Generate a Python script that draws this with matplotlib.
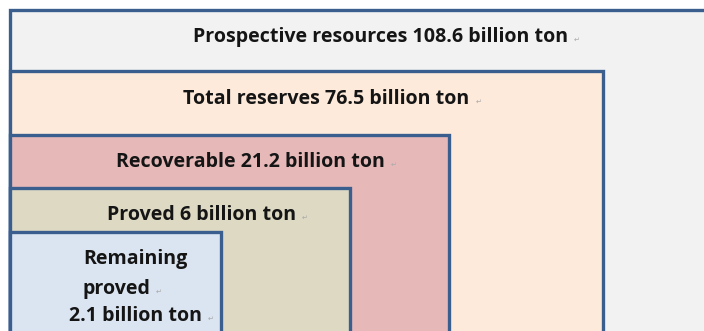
import matplotlib.pyplot as plt
from matplotlib.patches import Rectangle

# Reserve classes, outermost first, with their amounts (billion ton)
classes = ["Prospective resources", "Total reserves", "Recoverable", "Proved", "Remaining proved"]
amounts = [108.6, 76.5, 21.2, 6, 2.1]
fills = ["#F2F2F2", "#FDEADA", "#E6B9B8", "#DDD9C3", "#DBE5F1"]

# Nested box layout in pixels: right edge and top edge of each box
box_right = [760, 603, 449, 350, 221]
box_top = [10, 71, 135, 188, 232]
box_left = 10
edge = "#3A5F8F"

W, H = 704, 331
fig = plt.figure(figsize=(W / 100, H / 100), dpi=100)
ax = fig.add_axes([0, 0, 1, 1])
ax.set_xlim(0, W)
ax.set_ylim(H, 0)
ax.axis("off")

for i, name in enumerate(classes):
    ax.add_patch(Rectangle((box_left, box_top[i]), box_right[i] - box_left, H + 30 - box_top[i],
                           facecolor=fills[i], edgecolor=edge, linewidth=2.4, zorder=i + 1))

fam = ["Open Sans", "DejaVu Sans"]
txt = dict(fontsize=14.1, fontweight="bold", color="#151515", family=fam, zorder=10)
mark = dict(fontsize=5, color="#AAAAAA", family=fam, zorder=10)

def label(x, y, s):
    t = ax.text(x, y, s, ha="left", va="baseline", **txt)
    fig.canvas.draw()
    bb = t.get_window_extent()
    x1 = ax.transData.inverted().transform((bb.x1, bb.y0))[0]
    ax.text(x1 + 6, y, "\u21b5", ha="left", va="baseline", **mark)

def fmt(v):
    return f"{v:g} billion ton"

label(193, 42, f"{classes[0]} {fmt(amounts[0])}")
label(183, 104, f"{classes[1]} {fmt(amounts[1])}")
label(116, 167, f"{classes[2]} {fmt(amounts[2])}")
label(107, 220, f"{classes[3]} {fmt(amounts[3])}")
ax.text(83, 264, "Remaining", ha="left", va="baseline", **txt)
label(82, 294, "proved")
label(69, 321, fmt(amounts[4]))

fig.savefig("out.png", dpi=100)
